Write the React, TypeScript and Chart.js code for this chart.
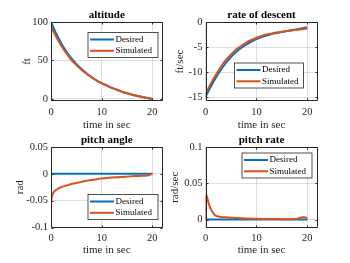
import React, { useEffect, useRef } from "react";
import { Chart, registerables } from "chart.js";
Chart.register(...registerables);

// ---------------- data ----------------
const timeSec = [0, 1, 2, 3, 4, 5, 6, 7, 8, 9, 10, 11, 12, 13, 14, 15, 16, 17, 18, 19, 20];
const altitudeDesired = [100, 85, 72.5, 62, 53, 45.5, 39, 33.5, 28.5, 24, 20.5, 17.5, 14.5, 12, 9.5, 7.5, 5.5, 4, 2.5, 1.2, 0];
const altitudeSimulated = [94, 81, 69.5, 59.5, 51, 44, 38, 32.8, 28, 23.8, 20.3, 17.3, 14.4, 11.9, 9.5, 7.5, 5.6, 4.1, 2.7, 1.4, 0.3];
const descentDesired = [-15, -13.0, -11.2, -9.6, -8.2, -7.0, -6.0, -5.2, -4.5, -3.9, -3.4, -3.0, -2.7, -2.4, -2.2, -2.0, -1.8, -1.6, -1.45, -1.25, -1.05];
const descentSimulated = [-14.4, -12.4, -10.6, -9.0, -7.6, -6.5, -5.5, -4.8, -4.1, -3.6, -3.15, -2.8, -2.5, -2.3, -2.1, -1.95, -1.8, -1.7, -1.55, -1.45, -1.3];

const pitchAngleTime = [0, 0.2, 0.5, 1, 1.5, 2, 3, 4, 5, 6, 7, 8, 9, 10, 11, 12, 13, 14, 15, 16, 17, 18, 19, 19.5, 20];
const pitchAngleDesired = [0, 0, 0, 0, 0, 0, 0, 0, 0, 0, 0, 0, 0, 0, 0, 0, 0, 0, 0, 0, 0, 0, 0, 0, 0];
const pitchAngleSimulated = [-0.053, -0.042, -0.035, -0.03, -0.027, -0.025, -0.022, -0.019, -0.017, -0.015, -0.013, -0.0115, -0.01, -0.0088, -0.0078, -0.007, -0.0063, -0.0057, -0.0052, -0.0047, -0.0042, -0.0037, -0.003, -0.0018, 0];

const pitchRateTime = [0, 0.1, 0.3, 0.6, 1, 1.5, 2, 3, 4, 5, 6, 8, 10, 12, 14, 16, 17, 18, 18.5, 19, 19.5, 20];
const pitchRateDesired = [0, 0, 0, 0, 0, 0, 0, 0, 0, 0, 0, 0, 0, 0, 0, 0, 0, 0, 0, 0, 0, 0];
const pitchRateSimulated = [0, 0.035, 0.031, 0.023, 0.015, 0.009, 0.0055, 0.0035, 0.003, 0.0025, 0.002, 0.0015, 0.001, 0.0008, 0.0006, 0.0005, 0.0006, 0.0012, 0.002, 0.003, 0.0032, 0.0015];

const timeTicks = [0, 10, 20];
const altitudeTicks = [0, 50, 100];
const descentTicks = [-15, -10, -5, 0];
const pitchAngleTicks = [-0.1, -0.05, 0, 0.05];
const pitchRateTicks = [0, 0.05, 0.1];

const seriesLabels = ["Desired", "Simulated"];
const xTitle = "time in sec";

// ---------------- style ----------------
const FONT = "'Liberation Serif', 'Times New Roman', serif";
const BLUE = "#0072BD";
const ORANGE = "#D95319";
const GRID = "rgba(38,38,38,0.15)";
const AXIS = "#262626";

Chart.defaults.font.family = FONT;

const axesBoxPlugin = {
  id: "axesBox",
  afterDraw(chart: any) {
    const { ctx, chartArea } = chart;
    const l = Math.round(chartArea.left) + 0.5;
    const r = Math.round(chartArea.right) - 0.5;
    const t = Math.round(chartArea.top) + 0.5;
    const b = Math.round(chartArea.bottom) - 0.5;
    ctx.save();
    ctx.strokeStyle = AXIS;
    ctx.lineWidth = 1;
    ctx.beginPath();
    ctx.rect(l, t, r - l, b - t);
    const xs = chart.scales.x;
    xs.ticks.forEach((tk: any) => {
      const px = Math.round(xs.getPixelForValue(tk.value)) + 0.5;
      ctx.moveTo(px, b);
      ctx.lineTo(px, b - 2);
      ctx.moveTo(px, t);
      ctx.lineTo(px, t + 2);
    });
    const ys = chart.scales.y;
    ys.ticks.forEach((tk: any) => {
      const py = Math.round(ys.getPixelForValue(tk.value)) + 0.5;
      ctx.moveTo(l, py);
      ctx.lineTo(l + 2, py);
      ctx.moveTo(r, py);
      ctx.lineTo(r - 2, py);
    });
    ctx.stroke();
    ctx.restore();
  },
};

function makeLegend(box: { left: number; top: number; width: number; height: number }) {
  return {
    id: "boxLegend",
    afterDraw(chart: any) {
      const { ctx } = chart;
      ctx.save();
      ctx.fillStyle = "#fff";
      ctx.fillRect(box.left, box.top, box.width, box.height);
      ctx.strokeStyle = AXIS;
      ctx.lineWidth = 0.8;
      ctx.strokeRect(box.left + 0.5, box.top + 0.5, box.width, box.height);
      chart.data.datasets.forEach((ds: any, i: number) => {
        const y = box.top + 7.5 + i * 11.3;
        ctx.strokeStyle = ds.borderColor;
        ctx.lineWidth = 2;
        ctx.beginPath();
        ctx.moveTo(box.left + 2.5, y);
        ctx.lineTo(box.left + 26.5, y);
        ctx.stroke();
        ctx.fillStyle = "#000";
        ctx.font = `9px ${FONT}`;
        ctx.textBaseline = "middle";
        ctx.textAlign = "left";
        ctx.fillText(ds.label, box.left + 28, y);
      });
      ctx.restore();
    },
  };
}

type Spec = {
  title: string;
  yLabel: string;
  tDesired: number[];
  desired: number[];
  tSimulated: number[];
  simulated: number[];
  yMin: number;
  yMax: number;
  yTicks: number[];
  pad: { left: number; right: number; top: number; bottom: number };
  titlePad: { top: number; bottom: number };
  yWidth: number;
  yTitlePad: number;
  xHeight: number;
  xTitlePad: number;
  legend: { left: number; top: number; width: number; height: number };
};

function buildConfig(s: Spec): any {
  return {
    type: "line",
    data: {
      datasets: [
        {
          label: seriesLabels[0],
          data: s.tDesired.map((t, i) => ({ x: t, y: s.desired[i] })),
          borderColor: BLUE,
          borderWidth: 2,
          pointRadius: 0,
          order: 2,
          cubicInterpolationMode: "monotone",
        },
        {
          label: seriesLabels[1],
          data: s.tSimulated.map((t, i) => ({ x: t, y: s.simulated[i] })),
          borderColor: ORANGE,
          borderWidth: 2,
          pointRadius: 0,
          order: 1,
          cubicInterpolationMode: "monotone",
        },
      ],
    },
    options: {
      responsive: false,
      animation: false,
      devicePixelRatio: 1,
      events: [],
      layout: { padding: s.pad },
      plugins: {
        legend: { display: false },
        tooltip: { enabled: false },
        title: {
          display: true,
          text: s.title,
          fullSize: false,
          color: "#000",
          font: { size: 11, weight: "bold", family: FONT, lineHeight: 1.2 },
          padding: s.titlePad,
        },
      },
      scales: {
        x: {
          type: "linear",
          min: 0,
          max: 22,
          afterBuildTicks: (a: any) => {
            a.ticks = timeTicks.map((v) => ({ value: v }));
          },
          afterFit: (a: any) => {
            a.height = s.xHeight;
          },
          ticks: {
            color: AXIS,
            font: { size: 10.5, family: FONT },
            padding: 4.5,
            maxRotation: 0,
            callback: (v: any) => String(v),
          },
          grid: { color: GRID, drawTicks: false, lineWidth: 1 },
          border: { display: false },
          title: {
            display: true,
            text: xTitle,
            color: AXIS,
            font: { size: 11, family: FONT, lineHeight: 1.2 },
            padding: { top: 0, bottom: s.xTitlePad },
          },
        },
        y: {
          type: "linear",
          min: s.yMin,
          max: s.yMax,
          afterBuildTicks: (a: any) => {
            a.ticks = s.yTicks.map((v) => ({ value: v }));
          },
          afterFit: (a: any) => {
            a.width = s.yWidth;
          },
          ticks: {
            color: AXIS,
            font: { size: 10.5, family: FONT },
            padding: 3,
            callback: (v: any) => String(v),
          },
          grid: { color: GRID, drawTicks: false, lineWidth: 1 },
          border: { display: false },
          title: {
            display: true,
            text: s.yLabel,
            color: AXIS,
            font: { size: 11, family: FONT, lineHeight: 1.2 },
            padding: { top: s.yTitlePad, bottom: 0 },
          },
        },
      },
    },
    plugins: [axesBoxPlugin, makeLegend(s.legend)],
  };
}

const specs: Spec[] = [
  {
    title: "altitude",
    yLabel: "ft",
    tDesired: timeSec,
    desired: altitudeDesired,
    tSimulated: timeSec,
    simulated: altitudeSimulated,
    yMin: -2.6,
    yMax: 100,
    yTicks: altitudeTicks,
    pad: { left: 0, right: 187.5, top: 0, bottom: 130 },
    titlePad: { top: 8.4, bottom: 0.4 },
    yWidth: 51,
    yTitlePad: 20.4,
    xHeight: 32,
    xTitlePad: 1.4,
    legend: { left: 87.5, top: 32, width: 70, height: 25 },
  },
  {
    title: "rate of descent",
    yLabel: "ft/sec",
    tDesired: timeSec,
    desired: descentDesired,
    tSimulated: timeSec,
    simulated: descentSimulated,
    yMin: -15.8,
    yMax: 0,
    yTicks: descentTicks,
    pad: { left: 165, right: 32.5, top: 0, bottom: 130 },
    titlePad: { top: 8.4, bottom: 0.4 },
    yWidth: 40.5,
    yTitlePad: 8.4,
    xHeight: 32,
    xTitlePad: 1.4,
    legend: { left: 234, top: 62.5, width: 69, height: 25 },
  },
  {
    title: "pitch angle",
    yLabel: "rad",
    tDesired: pitchAngleTime,
    desired: pitchAngleDesired,
    tSimulated: pitchAngleTime,
    simulated: pitchAngleSimulated,
    yMin: -0.1,
    yMax: 0.05,
    yTicks: pitchAngleTicks,
    pad: { left: 0, right: 187.5, top: 131, bottom: 3.5 },
    titlePad: { top: 2.4, bottom: 0.4 },
    yWidth: 51,
    yTitlePad: 13.4,
    xHeight: 32,
    xTitlePad: 2.4,
    legend: { left: 87.5, top: 194, width: 70, height: 25 },
  },
  {
    title: "pitch rate",
    yLabel: "rad/sec",
    tDesired: pitchRateTime,
    desired: pitchRateDesired,
    tSimulated: pitchRateTime,
    simulated: pitchRateSimulated,
    yMin: -0.011,
    yMax: 0.1,
    yTicks: pitchRateTicks,
    pad: { left: 165, right: 32.5, top: 131, bottom: 3.5 },
    titlePad: { top: 2.4, bottom: 0.4 },
    yWidth: 40.5,
    yTitlePad: 3.9,
    xHeight: 32,
    xTitlePad: 2.4,
    legend: { left: 241.5, top: 152.5, width: 70, height: 25 },
  },
];

export default function App() {
  const refs = [useRef<HTMLCanvasElement>(null), useRef<HTMLCanvasElement>(null), useRef<HTMLCanvasElement>(null), useRef<HTMLCanvasElement>(null)];
  useEffect(() => {
    const charts = specs.map((s, i) => new Chart(refs[i].current as HTMLCanvasElement, buildConfig(s)));
    return () => charts.forEach((c) => c.destroy());
  }, []);
  return (
    <div style={{ position: "fixed", left: 0, top: 0, width: 350, height: 263, background: "#fff", overflow: "hidden" }}>
      {refs.map((r, i) => (
        <canvas key={i} ref={r} width={350} height={263} style={{ position: "absolute", left: 0, top: 0, width: 350, height: 263 }} />
      ))}
    </div>
  );
}
